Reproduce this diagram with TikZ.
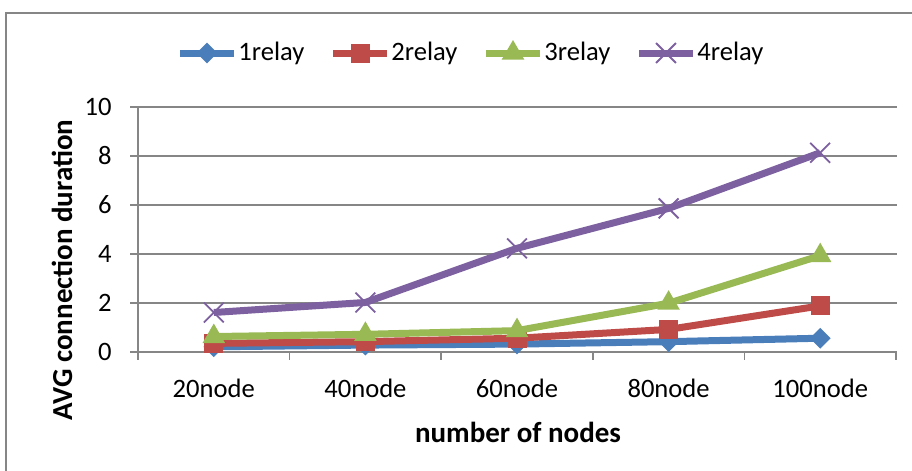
\documentclass[tikz,border=0pt]{standalone}
\usepackage{fontspec}
\setmainfont{Carlito}
\usepackage{tikz}
\usetikzlibrary{shapes.geometric, shapes.misc}

\definecolor{gridgray}{HTML}{868686}
\definecolor{relayA}{HTML}{4A7EBB}
\definecolor{relayB}{HTML}{BE4B48}
\definecolor{relayC}{HTML}{98B954}
\definecolor{relayD}{HTML}{7D60A0}

\tikzset{
    gridline/.style={draw=gridgray, line width=0.8pt},
    serie/.style={line width=3.5pt, line join=round},
    dmark/.style={diamond, fill=relayA, minimum size=10.5pt, inner sep=0pt},
    smark/.style={rectangle, fill=relayB, minimum size=9.5pt, inner sep=0pt},
    tmark/.style={regular polygon, regular polygon sides=3, fill=relayC, minimum size=13pt, inner sep=0pt},
    xmark/.style={cross out, draw=relayD, minimum size=9pt, line width=0.9pt, inner sep=0pt},
    lbl/.style={font=\fontsize{13.3}{15}\selectfont, inner sep=0pt},
    ttl/.style={font=\fontsize{14.5}{17}\selectfont\bfseries, inner sep=0pt},
}

\begin{document}
\begin{tikzpicture}[x=0.5pt, y=-0.5pt]
    \useasboundingbox (0, 0) rectangle (912, 471);
    \draw[gridline] (6, 471) -- (6, 13) -- (912, 13);

    % grid and y ticks
    \foreach \t in {0, 2, ..., 10} {
        \coordinate (gl\t) at (130, {351.7 - 24.5*\t});
        \coordinate (gr\t) at (897, {351.7 - 24.5*\t});
        \draw[gridline] (gl\t) -- (gr\t);
        \node[lbl, anchor=east] at (112, {351.7 - 24.5*\t}) (ytick\t) {\t};
    }
    \coordinate (ytop) at (138, 106.7);
    \coordinate (ybot) at (138, 351.7);
    \draw[gridline] (ytop) -- (ybot);

    % x ticks and categories
    \foreach \k in {0, ..., 5} {
        \coordinate (xt\k) at ({138 + 151.6*\k}, 351.7);
        \coordinate (xb\k) at ({138 + 151.6*\k}, 360);
        \draw[gridline] (xt\k) -- (xb\k);
    }
    \foreach \i/\n in {1/20, 2/40, 3/60, 4/80, 5/100}
        \node[lbl] at ({138 + 151.6*(\i - 0.5)}, 388) (cat\i) {\n node};

    \node[ttl, rotate=90] at (62, 270) (ytitle) {AVG connection duration};
    \node[ttl] at (518, 432) (xtitle) {number of nodes};

    % 1relay
    \foreach \i/\v in {1/0.2, 2/0.27, 3/0.31, 4/0.41, 5/0.55}
        \coordinate (a\i) at ({138 + 151.6*(\i - 0.5)}, {351.7 - 24.5*\v});
    \draw[serie, relayA] (a1) -- (a2) -- (a3) -- (a4) -- (a5);
    \foreach \i in {1, ..., 5} \node[dmark] at (a\i) {};

    % 2relay
    \foreach \i/\v in {1/0.34, 2/0.41, 3/0.55, 4/0.91, 5/1.87}
        \coordinate (b\i) at ({138 + 151.6*(\i - 0.5)}, {351.7 - 24.5*\v});
    \draw[serie, relayB] (b1) -- (b2) -- (b3) -- (b4) -- (b5);
    \foreach \i in {1, ..., 5} \node[smark] at (b\i) {};

    % 3relay
    \foreach \i/\v in {1/0.62, 2/0.71, 3/0.86, 4/1.98, 5/3.92}
        \coordinate (c\i) at ({138 + 151.6*(\i - 0.5)}, {351.7 - 24.5*\v});
    \draw[serie, relayC] (c1) -- (c2) -- (c3) -- (c4) -- (c5);
    \foreach \i in {1, ..., 5} \node[tmark] at (c\i) {};

    % 4relay
    \foreach \i/\v in {1/1.6, 2/2.01, 3/4.22, 4/5.85, 5/8.12}
        \coordinate (d\i) at ({138 + 151.6*(\i - 0.5)}, {351.7 - 24.5*\v});
    \draw[serie, relayD] (d1) -- (d2) -- (d3) -- (d4) -- (d5);
    \foreach \i in {1, ..., 5} \node[xmark] at (d\i) {};

    % legend
    \foreach \s/\x/\col/\mk in {1/180/relayA/dmark, 2/333/relayB/smark, 3/486/relayC/tmark, 4/639/relayD/xmark} {
        \coordinate (lg\s l) at (\x, 53);
        \coordinate (lg\s r) at (\x + 54, 53);
        \draw[serie, \col] (lg\s l) -- (lg\s r);
        \node[\mk] at (\x + 27, 53) (lgm\s) {};
        \node[lbl, anchor=west] at (\x + 58, 53) (lgt\s) {\s relay};
    }
\end{tikzpicture}
\end{document}
